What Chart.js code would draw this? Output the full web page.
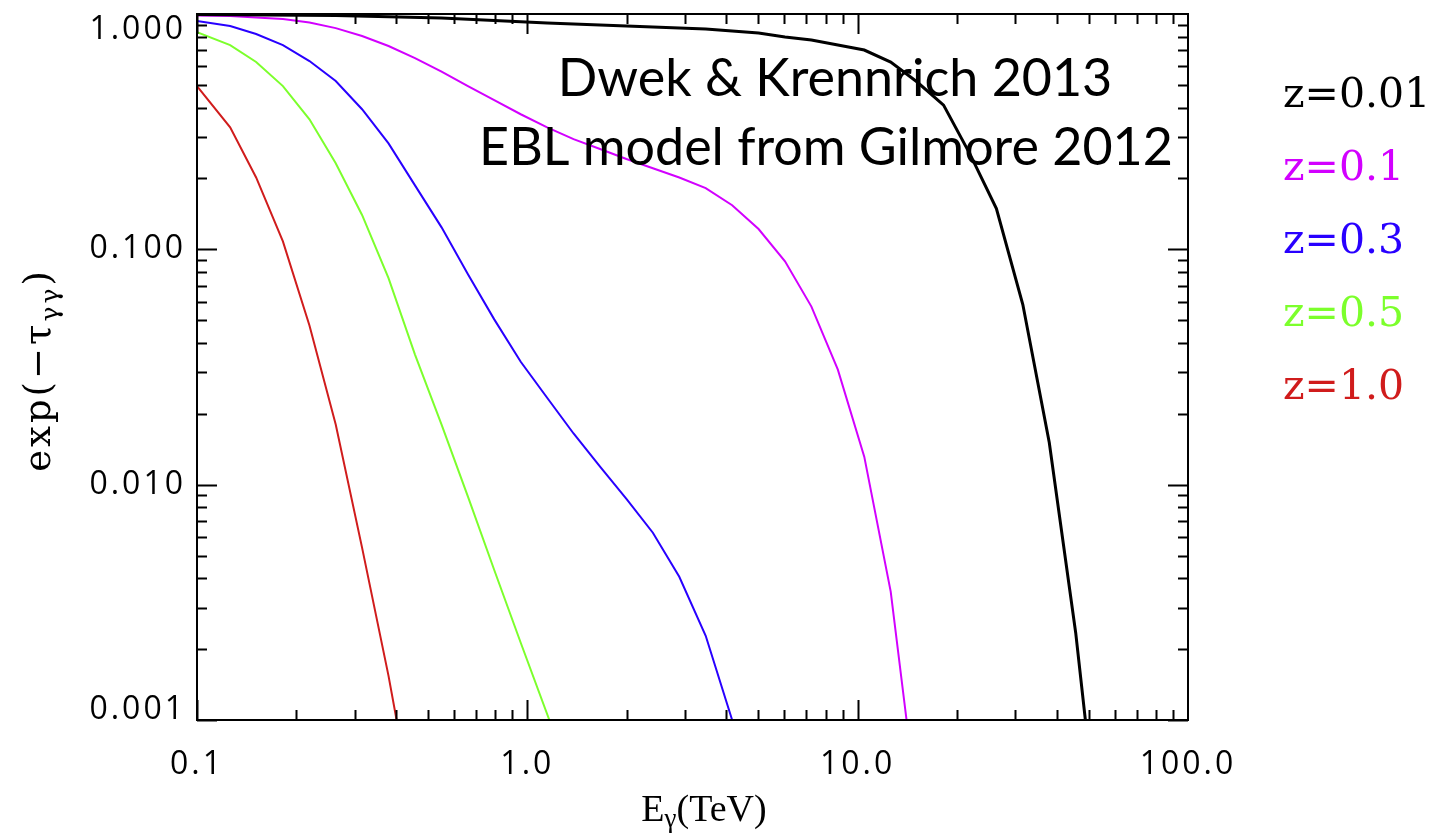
<!DOCTYPE html>
<html>
<head>
<meta charset="utf-8">
<script src="https://cdn.jsdelivr.net/npm/chart.js@4"></script>
<style>
  html, body { margin: 0; padding: 0; background: #ffffff; }
  #wrap { width: 1452px; height: 833px; }
</style>
</head>
<body>
<div id="wrap"><canvas id="c" width="1452" height="833"></canvas></div>
<script>
// ---- data (E in TeV, value = exp(-tau)) ----
const xTickValues = [0.1, 1, 10, 100];
const xTickLabels = ['0.1', '1.0', '10.0', '100.0'];
const yTickValues = [0.001, 0.01, 0.1, 1];
const yTickLabels = ['0.001', '0.010', '0.100', '1.000'];

const seriesLabels = ['z=0.01', 'z=0.1', 'z=0.3', 'z=0.5', 'z=1.0'];
const seriesColors = ['#000000', '#d200ff', '#2800ff', '#7cff2c', '#d01c1c'];

const E_z001 = [0.1, 0.263, 0.550, 1.148, 2.399, 3.467, 4.169, 5.012, 6.026, 7.244, 8.710, 10.47, 12.59, 15.14, 18.20, 21.88, 26.30, 31.62, 38.02, 45.71, 48.9];
const V_z001 = [0.995, 0.985, 0.962, 0.916, 0.881, 0.863, 0.847, 0.830, 0.798, 0.775, 0.738, 0.703, 0.625, 0.514, 0.410, 0.254, 0.149, 0.0583, 0.0151, 0.00235, 0.001];

const E_z01 = [0.1, 0.126, 0.151, 0.182, 0.219, 0.263, 0.316, 0.380, 0.457, 0.550, 0.661, 0.794, 0.955, 1.148, 1.380, 1.660, 1.995, 2.399, 2.884, 3.467, 4.169, 5.012, 6.026, 7.244, 8.710, 10.47, 12.59, 14.06];
const V_z01 = [0.985, 0.980, 0.966, 0.952, 0.920, 0.871, 0.806, 0.731, 0.650, 0.569, 0.494, 0.431, 0.375, 0.330, 0.294, 0.267, 0.242, 0.221, 0.202, 0.182, 0.154, 0.122, 0.0889, 0.0571, 0.0308, 0.01315, 0.00351, 0.001];

const E_z03 = [0.1, 0.126, 0.151, 0.182, 0.219, 0.263, 0.316, 0.380, 0.457, 0.550, 0.661, 0.794, 0.955, 1.148, 1.380, 1.660, 1.995, 2.399, 2.884, 3.467, 4.169];
const V_z03 = [0.933, 0.889, 0.822, 0.738, 0.631, 0.519, 0.394, 0.282, 0.187, 0.124, 0.0784, 0.0504, 0.0333, 0.0234, 0.0165, 0.01194, 0.00870, 0.00625, 0.00406, 0.00228, 0.001];

const E_z05 = [0.1, 0.126, 0.151, 0.182, 0.219, 0.263, 0.316, 0.380, 0.457, 0.550, 0.661, 0.794, 0.955, 1.166];
const V_z05 = [0.838, 0.738, 0.625, 0.494, 0.357, 0.232, 0.140, 0.0754, 0.0357, 0.0180, 0.00889, 0.00434, 0.00213, 0.001];

const E_z10 = [0.1, 0.126, 0.151, 0.182, 0.219, 0.263, 0.316, 0.380, 0.402];
const V_z10 = [0.494, 0.330, 0.202, 0.108, 0.0475, 0.0180, 0.0054, 0.00154, 0.001];

const annotationLines = ['Dwek & Krennrich 2013', 'EBL model from Gilmore 2012'];

// ---- build datasets ----
const seriesE = [E_z001, E_z01, E_z03, E_z05, E_z10];
const seriesV = [V_z001, V_z01, V_z03, V_z05, V_z10];
const datasets = seriesLabels.map((lab, i) => ({
  label: lab,
  data: seriesE[i].map((e, j) => ({ x: e, y: seriesV[i][j] })),
  borderColor: seriesColors[i],
  backgroundColor: seriesColors[i],
  borderWidth: i === 0 ? 3 : 2,
  pointRadius: 0,
  showLine: true,
  tension: 0,
  fill: false
}));

const decorPlugin = {
  id: 'decor',
  beforeDraw(chart) {
    chart.ctx.letterSpacing = '3px';
  },
  afterDraw(chart) {
    const ctx = chart.ctx;
    ctx.letterSpacing = '0px';
    const { left, right, top, bottom } = chart.chartArea;
    const xs = chart.scales.x, ys = chart.scales.y;
    ctx.save();
    ctx.strokeStyle = '#000';
    ctx.lineWidth = 2;
    ctx.strokeRect(left, top, right - left, bottom - top);
    ctx.beginPath();
    // x ticks (bottom & top, pointing inward)
    [0.1, 1, 10].forEach(d => {
      for (let m = 1; m <= 9; m++) {
        const px = Math.round(xs.getPixelForValue(d * m)) + 0.5;
        const len = m === 1 ? 20 : 10;
        ctx.moveTo(px, bottom); ctx.lineTo(px, bottom - len);
        ctx.moveTo(px, top); ctx.lineTo(px, top + len);
      }
    });
    // y ticks (left & right)
    [0.001, 0.01, 0.1].forEach(d => {
      for (let m = 1; m <= 9; m++) {
        const py = Math.round(ys.getPixelForValue(d * m)) + 0.5;
        const len = m === 1 ? 20 : 10;
        ctx.moveTo(left, py); ctx.lineTo(left + len, py);
        ctx.moveTo(right, py); ctx.lineTo(right - len, py);
      }
    });
    ctx.stroke();

    // y tick labels, kept inside the axis range
    ctx.fillStyle = '#000';
    ctx.font = '32px "Open Sans"';
    ctx.letterSpacing = '3px';
    ctx.textAlign = 'right';
    ctx.textBaseline = 'middle';
    yTickValues.forEach((v, i) => {
      let py = ys.getPixelForValue(v);
      py = Math.min(Math.max(py, top + 16), bottom - 10);
      ctx.fillText(yTickLabels[i], left - 11, py);
    });
    ctx.letterSpacing = '0px';

    // x axis title: E_gamma(TeV)
    ctx.textAlign = 'left';
    ctx.textBaseline = 'alphabetic';
    const big = '38px "Liberation Serif"', sub = '27px "Liberation Serif"';
    ctx.font = big; const wE = ctx.measureText('E').width;
    ctx.font = sub; const wg = ctx.measureText('γ').width;
    ctx.font = big; const wT = ctx.measureText('(TeV)').width;
    let x0 = 704 - (wE + wg + wT) / 2;
    const base = 821;
    ctx.font = big; ctx.fillText('E', x0, base);
    ctx.font = sub; ctx.fillText('γ', x0 + wE, base + 6);
    ctx.font = big; ctx.fillText('(TeV)', x0 + wE + wg, base);

    // y axis title: exp(-tau_gammagamma), rotated
    ctx.save();
    ctx.translate(50, 370);
    ctx.rotate(-Math.PI / 2);
    ctx.letterSpacing = '3px';
    const yb = '37px "DejaVu Serif"', ys2 = '25px "DejaVu Serif"';
    ctx.font = yb; const w1 = ctx.measureText('exp(−τ').width;
    ctx.font = ys2; const w2 = ctx.measureText('γγ').width;
    ctx.font = yb; const w3 = ctx.measureText(')').width;
    let sx = -(w1 + w2 + w3) / 2;
    ctx.font = yb; ctx.fillText('exp(−τ', sx, 0);
    ctx.font = ys2; ctx.fillText('γγ', sx + w1, 8);
    ctx.font = yb; ctx.fillText(')', sx + w1 + w2, 0);
    ctx.letterSpacing = '0px';
    ctx.restore();

    // annotation
    ctx.font = '52px Lato';
    ctx.textAlign = 'center';
    ctx.textBaseline = 'middle';
    ctx.fillText(annotationLines[0], 835, 79);
    ctx.fillText(annotationLines[1], 826, 148);

    // legend (coloured text)
    ctx.font = '41px "DejaVu Serif"';
    ctx.textAlign = 'left';
    const ly = [96, 169, 242, 315, 388];
    seriesLabels.forEach((lab, i) => {
      ctx.fillStyle = seriesColors[i];
      ctx.fillText(lab, 1283, ly[i]);
    });
    ctx.restore();
  }
};

new Chart(document.getElementById('c'), {
  type: 'scatter',
  data: { datasets },
  options: {
    responsive: false,
    animation: false,
    devicePixelRatio: 1,
    layout: { padding: { left: 0, right: 264, top: 14, bottom: 0 } },
    plugins: { legend: { display: false }, tooltip: { enabled: false } },
    scales: {
      x: {
        type: 'logarithmic',
        min: 0.1, max: 100,
        grid: { display: false, drawTicks: false },
        border: { display: false },
        afterBuildTicks: s => { s.ticks = xTickValues.map(v => ({ value: v })); },
        afterFit: s => { s.height = 113; },
        ticks: {
          color: '#000',
          font: { family: 'Open Sans', size: 32 },
          padding: 26,
          maxRotation: 0,
          autoSkip: false,
          callback: v => { const i = xTickValues.indexOf(v); return i >= 0 ? xTickLabels[i] : ''; }
        }
      },
      y: {
        type: 'logarithmic',
        min: 0.001, max: 1,
        grid: { display: false, drawTicks: false },
        border: { display: false },
        afterBuildTicks: s => { s.ticks = yTickValues.map(v => ({ value: v })); },
        afterFit: s => { s.width = 197; },
        ticks: { display: false }
      }
    }
  },
  plugins: [decorPlugin]
});
</script>
</body>
</html>
